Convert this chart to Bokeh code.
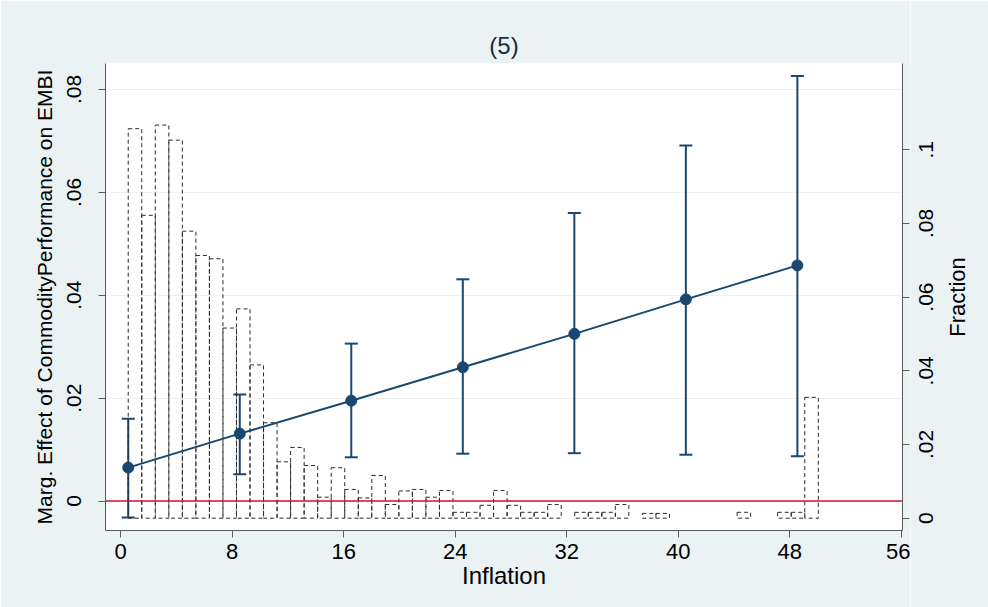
import math
from bokeh.plotting import figure
from bokeh.layouts import row
from bokeh.models import (Range1d, LinearAxis, FixedTicker, CustomJSTickFormatter,
                          ColumnDataSource, Whisker, TeeHead, Span)
from bokeh.core.properties import value
from bokeh.embed import file_html
from bokeh.resources import INLINE

# ---- data ----
infl_pts = [0.54, 8.54, 16.54, 24.54, 32.54, 40.54, 48.54]
marg_eff = [0.0065, 0.0131, 0.0195, 0.0260, 0.0325, 0.0392, 0.0458]
ci_low = [-0.0032, 0.0052, 0.0085, 0.0092, 0.0093, 0.0090, 0.0087]
ci_high = [0.0160, 0.0207, 0.0306, 0.0431, 0.0560, 0.0691, 0.0826]

hist_start = 0.54
hist_width = 0.9706
hist_frac = [0.1057, 0.0822, 0.1067, 0.1026, 0.0779, 0.0713, 0.0704, 0.0516, 0.0568, 0.0416,
             0.0259, 0.0153, 0.0192, 0.0143, 0.0057, 0.0137, 0.0078, 0.0055, 0.0116, 0.0037,
             0.0074, 0.0078, 0.0057, 0.0075, 0.0016, 0.0016, 0.0035, 0.0075, 0.0035, 0.0016,
             0.0016, 0.0037, 0.0, 0.0016, 0.0016, 0.0016, 0.0037, 0.0, 0.0013, 0.0013,
             0.0, 0.0, 0.0, 0.0, 0.0, 0.0016, 0.0, 0.0, 0.0016, 0.0016,
             0.0328]

x_ticks = [0, 8, 16, 24, 32, 40, 48, 56]
y_ticks = [0, 0.02, 0.04, 0.06, 0.08]
frac_ticks = [0, 0.02, 0.04, 0.06, 0.08, 0.1]
frac_tick_labels = ["0", ".02", ".04", ".06", ".08", ".1"]

# ---- styling ----
BG = "#eaf2f3"
NAVY = "#1a476f"
FONT = "Liberation Sans"
TOP, BOTTOM = 63, 77
frac_range = Range1d(-0.00334, 0.1234)

p = figure(width=910, height=607, output_backend="svg", toolbar_location=None,
           x_range=Range1d(-1.09, 56.08), y_range=Range1d(-0.00573, 0.08505),
           min_border_left=105, min_border_right=8, min_border_top=TOP,
           min_border_bottom=BOTTOM, title="(5)")
p.extra_y_ranges = {"frac": frac_range}
p.border_fill_color = BG
p.background_fill_color = "white"
p.outline_line_color = None

p.title.align = "center"
p.title.text_font = FONT
p.title.text_font_size = "24px"
p.title.text_font_style = "normal"
p.title.text_color = "#1f2b38"

# histogram (right axis)
lefts, rights, tops = [], [], []
for i, f in enumerate(hist_frac):
    if f > 0:
        lefts.append(hist_start + i * hist_width)
        rights.append(hist_start + (i + 1) * hist_width)
        tops.append(f)
p.quad(left=lefts, right=rights, top=tops, bottom=0, y_range_name="frac",
       fill_color=None, line_color="#2b2b2b", line_width=1, line_dash="4 3")

# zero line
p.add_layout(Span(location=0, dimension="width", line_color="#d0103a", line_width=1.6))

# marginal effect line + CI
src = ColumnDataSource(dict(x=infl_pts, y=marg_eff, lo=ci_low, hi=ci_high))
p.add_layout(Whisker(base="x", lower="lo", upper="hi", source=src,
                     line_color=NAVY, line_width=2,
                     lower_head=TeeHead(size=13, line_color=NAVY, line_width=2),
                     upper_head=TeeHead(size=13, line_color=NAVY, line_width=2)))
p.line("x", "y", source=src, line_color=NAVY, line_width=2)
p.scatter("x", "y", source=src, size=11, fill_color=NAVY, line_color=NAVY)

# grid
p.xgrid.visible = False
p.ygrid.ticker = FixedTicker(ticks=y_ticks)
p.ygrid.grid_line_color = BG
p.ygrid.grid_line_width = 1.2

fmt = CustomJSTickFormatter(code="""
if (Math.abs(tick) < 1e-12) return "0";
var s = tick.toFixed(2).replace(/^0/, "");
if (s.endsWith("0")) s = s.slice(0, -1);
return s;
""")

def style_axis(ax, tick_size, label_size):
    ax.axis_line_color = "#5a5a5a"
    ax.major_tick_line_color = "#5a5a5a"
    ax.major_tick_out = 7
    ax.major_tick_in = 0
    ax.minor_tick_out = 0
    ax.minor_tick_in = 0
    ax.major_label_text_font = FONT
    ax.major_label_text_font_size = tick_size
    ax.major_label_text_color = "black"
    ax.axis_label_text_font = FONT
    ax.axis_label_text_font_size = label_size
    ax.axis_label_text_font_style = "normal"
    ax.axis_label_text_color = "black"

# x axis
xa = p.xaxis[0]
xa.ticker = FixedTicker(ticks=x_ticks)
xa.axis_label = "Inflation"
style_axis(xa, "22px", "24px")
xa.major_label_standoff = 6
xa.axis_label_standoff = 0

# left axis
ya = p.yaxis[0]
ya.ticker = FixedTicker(ticks=y_ticks)
ya.formatter = fmt
ya.axis_label = "Marg. Effect of CommodityPerformance on EMBI"
style_axis(ya, "21px", "21px")
ya.major_label_orientation = "vertical"
ya.major_label_standoff = 17
ya.axis_label_standoff = 9

# right axis: line and ticks here, its texts in the side panel
ra = LinearAxis(y_range_name="frac", ticker=FixedTicker(ticks=frac_ticks),
                formatter=CustomJSTickFormatter(code='return ""'))
style_axis(ra, "1px", "1px")
ra.major_label_text_color = None
ra.major_label_standoff = 0
p.add_layout(ra, "right")

# side panel holding the rotated right-axis texts (shares the Fraction range)
side = figure(width=78, height=607, output_backend="svg", toolbar_location=None,
              x_range=Range1d(0, 78), y_range=frac_range,
              min_border_left=0, min_border_right=0, min_border_top=TOP,
              min_border_bottom=BOTTOM)
side.axis.visible = False
side.grid.visible = False
side.outline_line_color = None
side.background_fill_color = BG
side.border_fill_color = BG
side.text(x=[15] * len(frac_ticks), y=frac_ticks, text=frac_tick_labels,
          angle=math.pi / 2, text_align="center", text_baseline="middle",
          text_font=value(FONT), text_font_size="21px", text_color="black")
side.text(x=[47], y=[(frac_range.start + frac_range.end) / 2], text=["Fraction"],
          angle=math.pi / 2, text_align="center", text_baseline="middle",
          text_font=value(FONT), text_font_size="22px", text_color="black")

layout = row(p, side, spacing=0)
open("out.html", "w").write(file_html(layout, INLINE))
